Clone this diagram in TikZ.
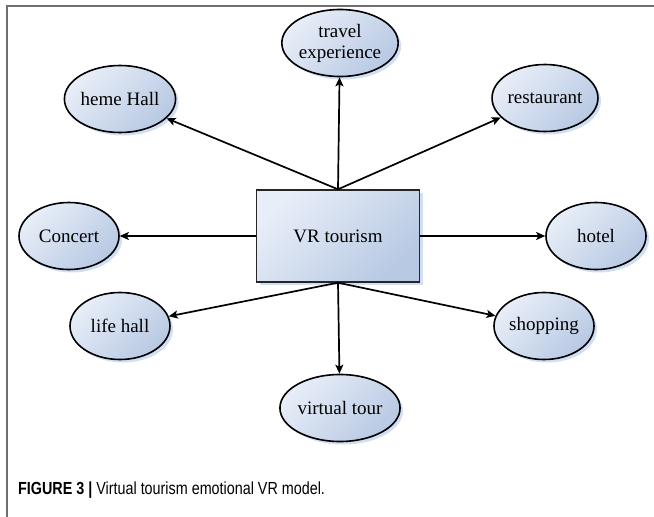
\documentclass[tikz,border=0pt]{standalone}
\usepackage{fontspec}
\setmainfont{Liberation Serif}
\newfontfamily\capfont{Liberation Sans}
\usetikzlibrary{shapes.geometric,shadows,arrows.meta}
\definecolor{fillA}{RGB}{232,238,248}
\definecolor{fillB}{RGB}{184,201,227}
\definecolor{shadowc}{RGB}{180,202,235}
\definecolor{framec}{RGB}{110,110,110}
\tikzset{
  bubble/.style={ellipse, draw=black, line width=1.6pt, minimum width=100pt, minimum height=67pt, inner sep=0pt,
    top color=fillA, bottom color=fillB, shading angle=45, align=center,
    font=\fontsize{19}{21}\selectfont,
    drop shadow={fill=shadowc, opacity=0.6, shadow xshift=3pt, shadow yshift=-3pt}},
  centerbox/.style={rectangle, draw=black!85, line width=1.4pt, minimum width=163pt, minimum height=92pt,
    top color=fillA, bottom color=fillB, shading angle=45,
    font=\fontsize{19}{21}\selectfont,
    drop shadow={fill=shadowc, opacity=0.6, shadow xshift=3pt, shadow yshift=-3pt}},
  link/.style={line width=1.7pt, -{Stealth[length=9pt,width=8pt,inset=2pt]}}
}
\begin{document}
\begin{tikzpicture}[x=1pt,y=-1pt]
\useasboundingbox (0,0) rectangle (654,517);
\draw[framec, line width=1.8pt] (7,517) -- (7,6) -- (654,6);
\node[centerbox] (vr) at (338,236) {VR tourism};
\node[bubble] (travel) at (340,43) {travel\\experience};
\node[bubble] (heme) at (120,99) {heme Hall};
\node[bubble] (rest) at (545,98) {restaurant};
\node[bubble] (conc) at (69,236) {Concert};
\node[bubble] (hotel) at (596,236) {hotel};
\node[bubble] (life) at (120,326) {life hall};
\node[bubble] (shop) at (544,326) {shopping};
\node[bubble] (vtour) at (340,408) {virtual tour};
\draw[link] (vr.north) -- (travel);
\draw[link] (vr.north) -- (heme);
\draw[link] (vr.north) -- (rest);
\draw[link] (vr.west) -- (conc);
\draw[link] (vr.east) -- (hotel);
\draw[link] (vr.south) -- (life);
\draw[link] (vr.south) -- (shop);
\draw[link] (vr.south) -- (vtour);
\node[anchor=west, inner sep=0pt] (cap) at (18,490) {\capfont\fontsize{17.5}{20}\selectfont\scalebox{0.82}[1]{\textbf{FIGURE 3 |} Virtual tourism emotional VR model.}};
\end{tikzpicture}
\end{document}
